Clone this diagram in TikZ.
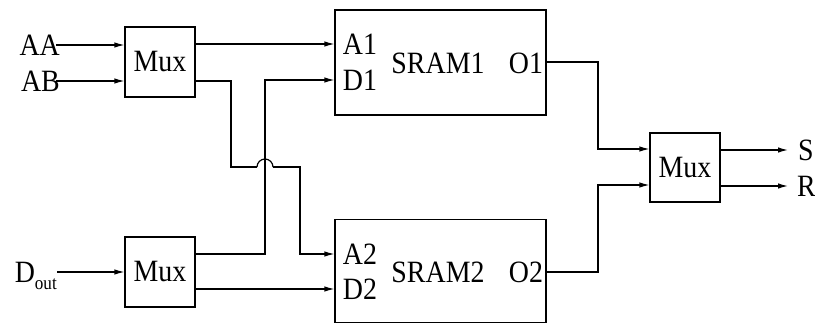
\documentclass[tikz,border=0pt]{standalone}
\usepackage{fontspec}
\setmainfont[FakeStretch=0.9]{Liberation Serif}
\usetikzlibrary{arrows.meta}
\begin{document}
\begin{tikzpicture}[x=1pt,y=-1pt,
  every node/.style={font=\fontsize{31}{33}\selectfont, inner sep=0pt},
  box/.style={draw, line width=1.2pt},
  wire/.style={line width=1.2pt},
  arr/.style={wire, -{Latex[length=10pt,width=5.5pt]}}]
\useasboundingbox (0,0) rectangle (815,324);
% boxes
\node[box, minimum width=70pt, minimum height=70pt] (mux1) at (160,62) {Mux};
\node[box, minimum width=70pt, minimum height=70pt] (mux3) at (160,272) {Mux};
\node[box, minimum width=70pt, minimum height=69pt] (mux4) at (685,167.5) {Mux};
\node[box, minimum width=211pt, minimum height=105pt] (sram1) at (440.5,62.5) {};
\node[box, minimum width=211pt, minimum height=103pt] (sram2) at (440.5,271) {};
% texts inside SRAMs
\node (A1) at (360,44) {A1};
\node (D1) at (360,80) {D1};
\node (S1) at (438,63) {SRAM1};
\node (O1) at (526,63) {O1};
\node (A2) at (360,254) {A2};
\node (D2) at (360,289) {D2};
\node (S2) at (438,272) {SRAM2};
\node (O2) at (526,272) {O2};
% external labels
\node[anchor=east] (AA) at (60,45) {AA};
\node[anchor=east] (AB) at (60,81) {AB};
\node[anchor=east] (Dout) at (57,272) {D\smash{\raisebox{-7pt}{\fontsize{19}{21}\selectfont out}}};
\node[anchor=west] (S) at (798,150) {S};
\node[anchor=west] (R) at (797,186) {R};
% coordinates for bends
\coordinate (b1) at (231,81);
\coordinate (b2) at (231,167);
\coordinate (h1) at (257,167);
\coordinate (h2) at (273,167);
\coordinate (b3) at (300,167);
\coordinate (v1) at (265,254);
\coordinate (o1x) at (598,62);
\coordinate (o2x) at (598,272);
% inputs
\draw[arr] ([xshift=-4pt]AA.east) -- (mux1.west |- AA.east);
\draw[arr] ([xshift=-4pt]AB.east) -- (mux1.west |- AB.east);
\draw[arr] (Dout.east) -- (mux3.west |- Dout.east);
% mux1 outputs
\draw[arr] (mux1.east |- A1) -- (sram1.west |- A1);
\draw[wire] (mux1.east |- b1) -- (b1) -- (b2) -- (h1);
\draw[wire] (h1) arc[start angle=180, end angle=0, radius=8pt];
\draw[arr] (h2) -- (b3) -- (b3 |- A2) -- (sram2.west |- A2);
% mux3 outputs
\draw[arr] (mux3.east |- v1) -- (v1) -- (v1 |- D1) -- (sram1.west |- D1);
\draw[arr] (mux3.east |- D2) -- (sram2.west |- D2);
% SRAM outputs
\draw[arr] (sram1.east |- o1x) -- (o1x) -- (o1x |- 0,149) -- (mux4.west |- 0,149);
\draw[arr] (sram2.east |- o2x) -- (o2x) -- (o2x |- 0,185) -- (mux4.west |- 0,185);
% final outputs
\draw[arr] (mux4.east |- S) -- ([xshift=-10pt]S.west);
\draw[arr] (mux4.east |- R) -- ([xshift=-9pt]R.west);
\end{tikzpicture}
\end{document}
